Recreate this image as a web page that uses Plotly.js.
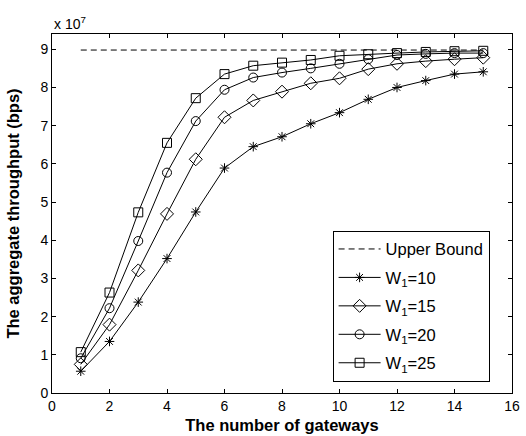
<!DOCTYPE html>
<html>
<head>
<meta charset="utf-8">
<script src="https://cdn.plot.ly/plotly-3.0.1.min.js"></script>
<style>html,body{margin:0;padding:0;background:#fff;}#chart{width:526px;height:436px;}</style>
</head>
<body>
<div id="chart"></div>
<script>
// values in units of 1e7 bps
const gateways = [1,2,3,4,5,6,7,8,9,10,11,12,13,14,15];
const upperBound = [8.98,8.98,8.98,8.98,8.98,8.98,8.98,8.98,8.98,8.98,8.98,8.98,8.98,8.98,8.98];
const w10 = [0.57,1.35,2.38,3.52,4.74,5.89,6.45,6.71,7.05,7.34,7.69,8.00,8.18,8.35,8.41];
const w15 = [0.75,1.79,3.21,4.69,6.12,7.22,7.66,7.89,8.11,8.24,8.48,8.62,8.69,8.74,8.78];
const w20 = [0.91,2.22,3.98,5.77,7.12,7.94,8.26,8.39,8.50,8.62,8.74,8.85,8.88,8.90,8.90];
const w25 = [1.07,2.63,4.73,6.55,7.72,8.35,8.57,8.65,8.72,8.83,8.87,8.90,8.93,8.95,8.96];
const seriesNames = ['Upper Bound','W<sub>1</sub>=10','W<sub>1</sub>=15','W<sub>1</sub>=20','W<sub>1</sub>=25'];
const xTitle = 'The number of gateways';
const yTitle = 'The aggregate throughput (bps)';

const font = 'Liberation Sans, Arial, Helvetica, sans-serif';
function ser(y, name, symbol, size, grp) {
  return {x: gateways, y: y, name: name, legendgroup: grp, type: 'scatter', mode: 'lines+markers',
    line: {color: '#000', width: 1},
    marker: {symbol: symbol, size: size, color: '#000', line: {color: '#000', width: 1}}};
}
const traces = [
  {x: gateways, y: upperBound, name: seriesNames[0], legendgroup: 'g0', type: 'scatter', mode: 'lines',
   line: {color: '#000', width: 1, dash: '6px,4px'}},
  ser(w10, seriesNames[1], 'asterisk-open', 8, 'g1'),
  ser(w15, seriesNames[2], 'diamond-open', 10, 'g2'),
  ser(w20, seriesNames[3], 'circle-open', 9, 'g3'),
  ser(w25, seriesNames[4], 'square-open', 9, 'g4')
];
const axisCommon = {showline: true, linecolor: '#000', linewidth: 1, mirror: 'ticks',
  ticks: 'inside', ticklen: 4, tickcolor: '#000', showgrid: false, zeroline: false,
  tickfont: {family: font, size: 14, color: '#000'}};
const layout = {
  width: 526, height: 436,
  margin: {l: 52, r: 14, t: 34, b: 43},
  paper_bgcolor: '#fff', plot_bgcolor: '#fff',
  font: {family: font, color: '#000'},
  xaxis: Object.assign({}, axisCommon, {range: [0, 16], dtick: 2, tick0: 0,
    title: {text: '<b>' + xTitle + '</b>', font: {family: font, size: 16.5, color: '#000'}, standoff: 6}}),
  yaxis: Object.assign({}, axisCommon, {range: [0, 9.4], dtick: 1, tick0: 0,
    title: {text: '<b>' + yTitle + '</b>', font: {family: font, size: 16.5, color: '#000'}, standoff: 16}}),
  showlegend: true,
  legend: {x: 0.61, y: 0.452, xanchor: 'left', yanchor: 'top', bgcolor: '#fff',
    bordercolor: '#000', borderwidth: 1, font: {family: font, size: 16.5, color: '#000'},
    itemwidth: 42, tracegroupgap: 4, traceorder: 'grouped'},
  annotations: [{xref: 'paper', yref: 'paper', x: 0, y: 1, xanchor: 'left', yanchor: 'bottom',
    text: 'x 10<sup>7</sup>', showarrow: false, font: {family: font, size: 14, color: '#000'}}]
};
Plotly.newPlot('chart', traces, layout, {displayModeBar: false, staticPlot: true});
</script>
</body>
</html>
